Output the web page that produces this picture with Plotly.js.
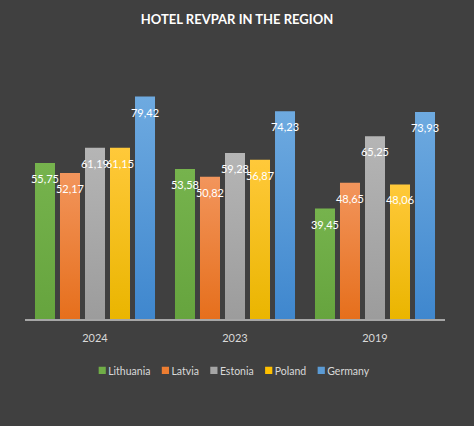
<!DOCTYPE html>
<html>
<head>
<meta charset="utf-8">
<script src="https://cdn.plot.ly/plotly-3.0.1.min.js"></script>
<style>html,body{margin:0;padding:0;background:#404040;}#chart{width:474px;height:426px;}</style>
</head>
<body>
<div id="chart"></div>
<script>
const years = ["2024", "2023", "2019"];
const countries = ["Lithuania", "Latvia", "Estonia", "Poland", "Germany"];
const lithuania = [55.75, 53.58, 39.45];
const latvia = [52.17, 50.82, 48.65];
const estonia = [61.19, 59.28, 65.25];
const poland = [61.15, 56.87, 48.06];
const germany = [79.42, 74.23, 73.93];
const seriesValues = [lithuania, latvia, estonia, poland, germany];
const baseColors = ["#70AD47", "#ED7D31", "#A5A5A5", "#FFC000", "#5B9BD5"];
const gradTop = ["#76b34d", "#f2955c", "#b5b5b5", "#ffc93a", "#6eaae0"];
const gradBottom = ["#66a43e", "#e66f1c", "#9c9c9c", "#eab500", "#3f87ce"];

const fmt = v => v.toFixed(2).replace(".", ",");
const FONT = "Lato, 'Open Sans', sans-serif";

const traces = countries.map((name, i) => ({
  type: "bar",
  name: name,
  x: years,
  y: seriesValues[i],
  text: seriesValues[i].map(fmt),
  textposition: "inside",
  insidetextanchor: "end",
  constraintext: "none",
  textangle: 0,
  cliponaxis: false,
  textfont: {color: "#ffffff", size: 11, family: FONT},
  marker: {color: baseColors[i], line: {width: 0}},
  hoverinfo: "none"
}));

const layout = {
  width: 474,
  height: 426,
  paper_bgcolor: "#404040",
  plot_bgcolor: "#404040",
  margin: {l: 25, r: 29, t: 67, b: 106.5, pad: 0},
  title: {
    text: "<b>HOTEL REVPAR IN THE REGION</b>",
    font: {color: "#ffffff", size: 13, family: FONT},
    x: 0.5, xanchor: "center", y: 0.955, yanchor: "middle"
  },
  barmode: "group",
  bargap: 0.107,
  bargroupgap: 0.2,
  showlegend: true,
  legend: {
    orientation: "h",
    x: 0.5, xanchor: "center",
    y: -0.204, yanchor: "middle",
    font: {color: "#d9d9d9", size: 10.5, family: FONT},
    itemwidth: 30,
    traceorder: "normal",
    bgcolor: "rgba(0,0,0,0)"
  },
  xaxis: {
    type: "category",
    showgrid: false,
    showline: true,
    linecolor: "#a6a6a6",
    linewidth: 1.5,
    ticks: "",
    ticklabelstandoff: 8,
    tickfont: {color: "#d9d9d9", size: 11, family: FONT},
    zeroline: false,
    fixedrange: true
  },
  yaxis: {
    range: [0, 90],
    visible: false,
    showgrid: false,
    zeroline: false,
    fixedrange: true
  },
  font: {family: FONT}
};

Plotly.newPlot("chart", traces, layout, {displayModeBar: false, staticPlot: true}).then(gd => {
  const svg = gd.querySelector("svg.main-svg");
  const ns = "http://www.w3.org/2000/svg";
  let defs = svg.querySelector("defs");
  if (!defs) { defs = document.createElementNS(ns, "defs"); svg.insertBefore(defs, svg.firstChild); }
  countries.forEach((c, i) => {
    const g = document.createElementNS(ns, "linearGradient");
    g.setAttribute("id", "grad" + i);
    g.setAttribute("x1", "0"); g.setAttribute("y1", "0");
    g.setAttribute("x2", "0"); g.setAttribute("y2", "1");
    [[0, gradTop[i]], [1, gradBottom[i]]].forEach(([o, col]) => {
      const s = document.createElementNS(ns, "stop");
      s.setAttribute("offset", o);
      s.setAttribute("stop-color", col);
      g.appendChild(s);
    });
    defs.appendChild(g);
  });
  const traceGroups = gd.querySelectorAll(".barlayer .trace");
  traceGroups.forEach((tg, i) => {
    tg.querySelectorAll(".point path").forEach(p => { p.style.fill = "url(#grad" + i + ")"; });
    tg.querySelectorAll(".point text").forEach(t => {
      const tr = t.getAttribute("transform") || "";
      t.setAttribute("transform", "translate(0,6) " + tr);
    });
  });

  // compact legend like the original (small squares, tight spacing)
  const legend = gd.querySelector("g.legend");
  if (legend) {
    const items = legend.querySelectorAll("g.traces");
    const widths = [];
    items.forEach(it => {
      const sym = it.querySelector(".legendpoints path");
      if (sym) sym.setAttribute("transform", "translate(4,0) scale(0.6)");
      const txt = it.querySelector("text.legendtext");
      if (txt) txt.setAttribute("x", "10");
      widths.push(10 + (txt ? txt.getBBox().width : 0));
    });
    const gap = 11;
    const total = widths.reduce((a, b) => a + b, 0) + gap * (widths.length - 1);
    const lt = legend.getAttribute("transform");
    const m = /translate\(([-\d.]+),\s*([-\d.]+)\)/.exec(lt);
    const ly = m ? parseFloat(m[2]) : 0;
    const startX = 234 - total / 2;
    legend.setAttribute("transform", "translate(" + startX + "," + ly + ")");
    let cx = 0;
    items.forEach((it, k) => {
      const tm = /translate\(([-\d.]+),\s*([-\d.]+)\)/.exec(it.getAttribute("transform") || "");
      const iy = tm ? parseFloat(tm[2]) : 0;
      it.setAttribute("transform", "translate(" + cx + "," + iy + ")");
      cx += widths[k] + gap;
    });
    const bg = legend.querySelector("rect.bg");
    if (bg) bg.setAttribute("width", total + 10);
    const clip = svg.ownerDocument.querySelectorAll("clipPath[id^='legend'] rect");
    clip.forEach(r => r.setAttribute("width", total + 20));
  }
});
</script>
</body>
</html>
